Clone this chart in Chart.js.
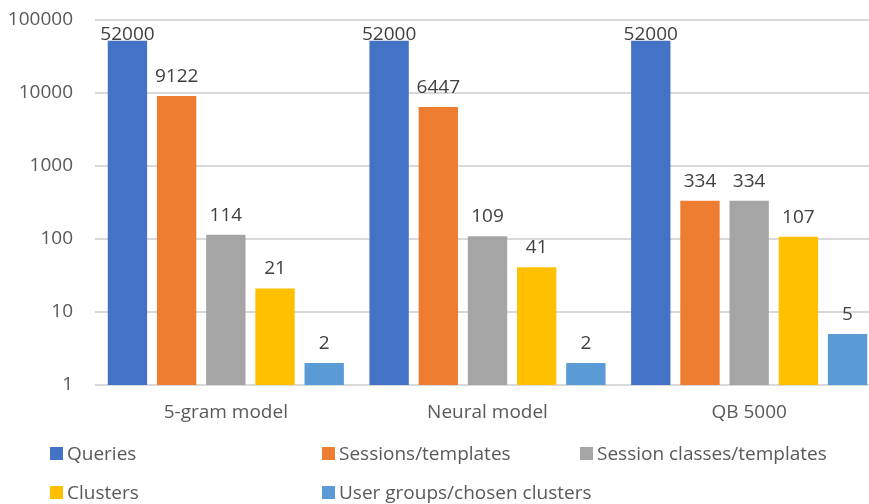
<!DOCTYPE html>
<html>
<head>
<meta charset="utf-8">
<script src="https://cdn.jsdelivr.net/npm/chart.js@4"></script>
<style>
    html, body { margin: 0; padding: 0; background: #fff; overflow: hidden; }
    #wrap { position: relative; width: 880px; height: 504px; }
    #legend { position: absolute; left: 0; top: 0; width: 869px; height: 504px; pointer-events: none;
              font-family: 'Open Sans', sans-serif; font-size: 19px; color: #595959; }
    .legend-item { position: absolute; display: flex; align-items: center; white-space: nowrap; }
    .legend-box { width: 13px; height: 13px; margin-right: 4px; }
</style>
</head>
<body>
<div id="wrap">
    <canvas id="barChart" width="880" height="504"></canvas>
    <div id="legend"></div>
</div>
<script>
// Chart data
const categories = ['5-gram model', 'Neural model', 'QB 5000'];
const seriesNames = ['Queries', 'Sessions/templates', 'Session classes/templates', 'Clusters', 'User groups/chosen clusters'];
const queries = [52000, 52000, 52000];
const sessions = [9122, 6447, 334];
const sessionClasses = [114, 109, 334];
const clusters = [21, 41, 107];
const userGroups = [2, 2, 5];
const tickValues = [1, 10, 100, 1000, 10000, 100000];

const seriesColors = ['#4472C4', '#ED7D31', '#A5A5A5', '#FFC000', '#5B9BD5'];
// legend slot positions (left, center y)
const legendSlots = [[50, 453], [322, 453], [580, 453], [50, 492], [322, 492]];

const FONT = "'Open Sans', sans-serif";

/**
 * Draw value labels above each bar
 */
const valueLabels = {
    id: 'valueLabels',
    afterDatasetsDraw(chart) {
        const ctx = chart.ctx;
        ctx.save();
        ctx.font = '19px ' + FONT;
        ctx.fillStyle = '#404040';
        ctx.textAlign = 'center';
        ctx.textBaseline = 'bottom';
        chart.data.datasets.forEach((ds, i) => {
            const meta = chart.getDatasetMeta(i);
            meta.data.forEach((bar, j) => {
                const y = Math.max(bar.y - 10, chart.chartArea.top + 24);
                ctx.fillText(String(ds.data[j]), bar.x, y);
            });
        });
        ctx.restore();
    }
};

const seriesData = [queries, sessions, sessionClasses, clusters, userGroups];

new Chart(document.getElementById('barChart').getContext('2d'), {
    type: 'bar',
    data: {
        labels: categories,
        datasets: seriesNames.map((name, i) => ({
            label: name,
            data: seriesData[i],
            backgroundColor: seriesColors[i],
            borderWidth: 0,
            categoryPercentage: 0.94,
            barPercentage: 0.8
        }))
    },
    options: {
        responsive: false,
        animation: false,
        layout: { padding: { top: 20, right: 0, bottom: 74, left: 0 } },
        plugins: {
            legend: { display: false },
            tooltip: { enabled: false }
        },
        scales: {
            y: {
                type: 'logarithmic',
                min: 1,
                max: 100000,
                afterBuildTicks: scale => {
                    scale.ticks = tickValues.map(v => ({ value: v }));
                },
                afterFit: scale => {
                    scale.width = 95;
                    scale.paddingTop = 0;
                    scale.paddingBottom = 0;
                },
                ticks: {
                    color: '#595959',
                    font: { family: FONT, size: 19 },
                    padding: 22,
                    callback: value => String(value)
                },
                grid: { color: '#D9D9D9', lineWidth: 2, drawTicks: false },
                border: { display: false }
            },
            x: {
                afterFit: scale => { scale.height = 45; },
                ticks: {
                    color: '#595959',
                    font: { family: FONT, size: 19 },
                    padding: 16
                },
                grid: { display: false, drawTicks: false },
                border: { display: false }
            }
        }
    },
    plugins: [valueLabels]
});

// HTML legend
const legendEl = document.getElementById('legend');
seriesNames.forEach((name, i) => {
    const item = document.createElement('div');
    item.className = 'legend-item';
    item.style.left = legendSlots[i][0] + 'px';
    item.style.top = (legendSlots[i][1] - 13) + 'px';
    item.style.height = '26px';
    const box = document.createElement('span');
    box.className = 'legend-box';
    box.style.background = seriesColors[i];
    const label = document.createElement('span');
    label.textContent = name;
    item.appendChild(box);
    item.appendChild(label);
    legendEl.appendChild(item);
});
</script>
</body>
</html>
